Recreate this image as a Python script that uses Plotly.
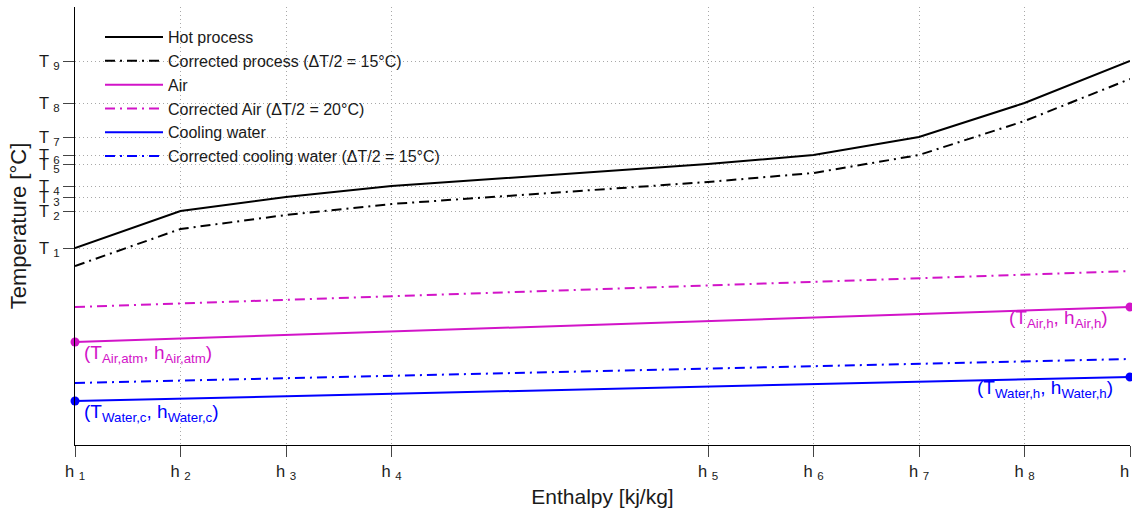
import plotly.graph_objects as go

# ---- data ----
h_pos = [0, 1, 2, 3, 6, 7, 8, 9, 10]
h_labels = ["h <sub>1</sub>", "h <sub>2</sub>", "h <sub>3</sub>", "h <sub>4</sub>", "h <sub>5</sub>",
            "h <sub>6</sub>", "h <sub>7</sub>", "h <sub>8</sub>", "h <sub>9</sub>"]
hot_process = [197, 234, 248, 259, 281, 290, 308, 342, 384]
corrected_process = [179, 216, 230, 241, 263, 272, 290, 324, 366]
T_labels = ["T <sub>1</sub>", "T <sub>2</sub>", "T <sub>3</sub>", "T <sub>4</sub>", "T <sub>5</sub>",
            "T <sub>6</sub>", "T <sub>7</sub>", "T <sub>8</sub>", "T <sub>9</sub>"]

stream_h = [0, 10]
air = [103, 138]
corrected_air = [138, 174]
water = [44, 68]
corrected_water = [62, 86]

BLACK = "#000000"
TXT = "#1a1a1a"
MAG = "rgb(210,20,200)"
BLUE = "rgb(0,0,255)"
DASHDOT = "10px,5px,2px,5px"
FONT = "Liberation Sans, Arial, Helvetica, sans-serif"

fig = go.Figure()
fig.add_trace(go.Scatter(x=h_pos, y=hot_process, mode="lines", name="Hot process",
                         line=dict(color=BLACK, width=2)))
fig.add_trace(go.Scatter(x=h_pos, y=corrected_process, mode="lines",
                         name="Corrected process (\u0394T/2 = 15\u00b0C)",
                         line=dict(color=BLACK, width=2, dash=DASHDOT)))
fig.add_trace(go.Scatter(x=stream_h, y=air, mode="lines", name="Air",
                         line=dict(color=MAG, width=2)))
fig.add_trace(go.Scatter(x=stream_h, y=corrected_air, mode="lines",
                         name="Corrected Air (\u0394T/2 = 20\u00b0C)",
                         line=dict(color=MAG, width=2, dash=DASHDOT)))
fig.add_trace(go.Scatter(x=stream_h, y=water, mode="lines", name="Cooling water",
                         line=dict(color=BLUE, width=2)))
fig.add_trace(go.Scatter(x=stream_h, y=corrected_water, mode="lines",
                         name="Corrected cooling water (\u0394T/2 = 15\u00b0C)",
                         line=dict(color=BLUE, width=2, dash=DASHDOT)))
fig.add_trace(go.Scatter(x=stream_h, y=air, mode="markers", showlegend=False,
                         marker=dict(color=MAG, size=9), cliponaxis=False))
fig.add_trace(go.Scatter(x=stream_h, y=water, mode="markers", showlegend=False,
                         marker=dict(color=BLUE, size=9), cliponaxis=False))

ann_font = dict(family=FONT, size=19)
fig.add_annotation(x=stream_h[0], y=air[0], xref="x", yref="y", showarrow=False,
                   text="(T<sub>Air,atm</sub>, h<sub>Air,atm</sub>)", xanchor="left", yanchor="top",
                   xshift=7, yshift=2, font=dict(color=MAG, **ann_font))
fig.add_annotation(x=stream_h[1], y=air[1], xref="x", yref="y", showarrow=False,
                   text="(T<sub>Air,h</sub>, h<sub>Air,h</sub>)", xanchor="right", yanchor="top",
                   xshift=-20, yshift=2, font=dict(color=MAG, **ann_font))
fig.add_annotation(x=stream_h[0], y=water[0], xref="x", yref="y", showarrow=False,
                   text="(T<sub>Water,c</sub>, h<sub>Water,c</sub>)", xanchor="left", yanchor="top",
                   xshift=7, yshift=2, font=dict(color=BLUE, **ann_font))
fig.add_annotation(x=stream_h[1], y=water[1], xref="x", yref="y", showarrow=False,
                   text="(T<sub>Water,h</sub>, h<sub>Water,h</sub>)", xanchor="right", yanchor="top",
                   xshift=-15, yshift=2, font=dict(color=BLUE, **ann_font))

axis_common = dict(showline=True, linecolor=BLACK, linewidth=1, mirror=False, zeroline=False,
                   ticks="outside", tickcolor="#444", ticklen=11, tickwidth=1,
                   showgrid=True, gridcolor="#a8a8a8", griddash="1px,3px", gridwidth=1,
                   automargin=False,
                   tickfont=dict(family=FONT, size=16.5, color=TXT),
                   title_font=dict(family=FONT, size=21, color=TXT))

fig.update_xaxes(range=[0, 10], tickmode="array", tickvals=h_pos, ticktext=h_labels,
                 ticklabeloverflow="allow",
                 title_text="Enthalpy [kj/kg]", title_standoff=8, **axis_common)
fig.update_yaxes(range=[0, 438], tickmode="array", tickvals=hot_process, ticktext=T_labels,
                 title_text="Temperature [\u00b0C]", title_standoff=6, **axis_common)
fig.update_yaxes(title_font_size=22)

fig.update_layout(
    width=1132, height=515,
    margin=dict(l=75, r=2, t=7, b=70, autoexpand=False),
    plot_bgcolor="white", paper_bgcolor="white",
    font=dict(family=FONT, size=16, color=TXT),
    legend=dict(x=0.0237, y=0.97, xanchor="left", yanchor="top",
                bgcolor="rgba(0,0,0,0)", borderwidth=0,
                font=dict(family=FONT, size=16, color=TXT),
                itemwidth=58, tracegroupgap=0),
    showlegend=True,
)

fig.write_html("out.html", config={"displayModeBar": False},
               post_script="document.body.style.margin='0px';document.body.style.overflow='hidden';")
